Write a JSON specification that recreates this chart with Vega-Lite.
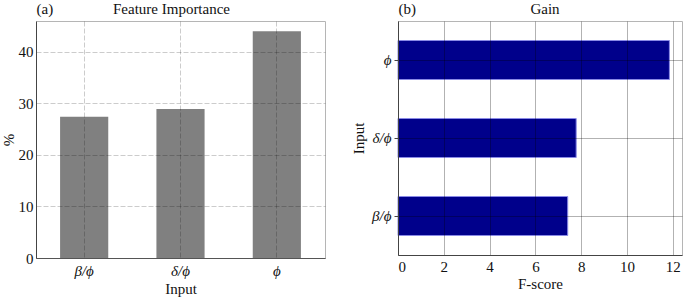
{
  "$schema": "https://vega.github.io/schema/vega-lite/v6.json",
  "padding": {"left": 0, "top": 0, "right": 0, "bottom": 0},
  "background": "white",
  "config": {
    "font": "Liberation Serif",
    "view": {"stroke": "#b5b5b5"},
    "title": {"font": "Liberation Serif", "fontSize": 15, "fontWeight": "normal", "color": "#111"},
    "concat": {"spacing": 25}
  },
  "datasets": {
    "imp": [{"Input": "β/ϕ", "Pct": 27.4}, {"Input": "δ/ϕ", "Pct": 28.9}, {"Input": "ϕ", "Pct": 44.0}],
    "gain": [{"Input": "ϕ", "F": 11.85}, {"Input": "δ/ϕ", "F": 7.78}, {"Input": "β/ϕ", "F": 7.41}]
  },
  "hconcat": [
    {
      "width": 289, "height": 237,
      "data": {"name": "imp"},
      "title": {"text": "Feature Importance", "offset": -16, "dx": -9},
      "layer": [
        {
          "mark": {"type": "bar", "color": "#808080"},
          "encoding": {
            "x": {"field": "Input", "type": "nominal", "sort": null, "scale": {"paddingInner": 0.5, "paddingOuter": 0.25},
              "axis": {"orient": "bottom", "title": "Input", "labelAngle": 0, "ticks": false, "grid": true, "gridDash": [5, 2], "gridColor": "#000", "gridOpacity": 0.2, "zindex": 1, "labelFont": "Liberation Serif", "labelFontSize": 15, "labelColor": "#111", "titleFont": "Liberation Serif", "titleFontSize": 15, "titleFontWeight": "normal", "titleColor": "#111", "labelFontStyle": "italic", "labelPadding": 5, "titlePadding": 3, "domainColor": "#555"}},
            "y": {"field": "Pct", "type": "quantitative", "scale": {"domain": [0, 46], "nice": false},
              "axis": {"title": "%", "values": [0, 10, 20, 30, 40], "ticks": false, "grid": true, "gridDash": [5, 2], "gridColor": "#000", "gridOpacity": 0.2, "zindex": 1, "labelFont": "Liberation Serif", "labelFontSize": 15, "labelColor": "#111", "titleFont": "Liberation Serif", "titleFontSize": 15, "titleFontWeight": "normal", "titleColor": "#111", "labelPadding": 3, "titlePadding": 2, "domainColor": "#444"}}
          }
        },
        {
          "mark": {"type": "bar", "opacity": 0},
          "encoding": {
            "x": {"field": "Input", "type": "nominal", "sort": null,
              "axis": {"orient": "top", "title": "(a)", "titleAnchor": "start", "titleBaseline": "alphabetic", "titleFont": "Liberation Serif", "titleFontSize": 15, "titleFontWeight": "normal", "titleColor": "#111", "labels": false, "ticks": false, "domain": false, "grid": false, "titlePadding": 8}},
            "y": {"field": "Pct", "type": "quantitative"}
          }
        }
      ],
      "resolve": {"axis": {"x": "independent"}}
    },
    {
      "width": 284, "height": 234,
      "data": {"name": "gain"},
      "title": {"text": "Gain", "offset": -16, "dx": 5},
      "layer": [
        {
          "mark": {"type": "bar", "color": "#00008b", "stroke": "#8a8ae6", "strokeWidth": 1},
          "encoding": {
            "y": {"field": "Input", "type": "nominal", "sort": null, "scale": {"paddingInner": 0.5, "paddingOuter": 0.25},
              "axis": {"title": "Input", "grid": true, "gridColor": "#000", "gridOpacity": 0.3, "zindex": 1, "labelFont": "Liberation Serif", "labelFontSize": 15, "labelColor": "#111", "titleFont": "Liberation Serif", "titleFontSize": 15, "titleFontWeight": "normal", "titleColor": "#111", "labelFontStyle": "italic", "tickSize": 4, "tickColor": "#444", "labelPadding": 3, "titlePadding": 5, "domainColor": "#444"}},
            "x": {"field": "F", "type": "quantitative", "scale": {"domain": [0, 12.4], "nice": false},
              "axis": {"title": "F-score", "values": [0, 2, 4, 6, 8, 10, 12], "ticks": false, "grid": true, "gridColor": "#000", "gridOpacity": 0.3, "zindex": 1, "labelFont": "Liberation Serif", "labelFontSize": 15, "labelColor": "#111", "titleFont": "Liberation Serif", "titleFontSize": 15, "titleFontWeight": "normal", "titleColor": "#111", "labelPadding": 4, "titlePadding": 2, "domainColor": "#444"}}
          }
        },
        {
          "mark": {"type": "bar", "opacity": 0},
          "encoding": {
            "y": {"field": "Input", "type": "nominal", "sort": null},
            "x": {"field": "F", "type": "quantitative",
              "axis": {"orient": "top", "title": "(b)", "titleAnchor": "start", "titleBaseline": "alphabetic", "titleFont": "Liberation Serif", "titleFontSize": 15, "titleFontWeight": "normal", "titleColor": "#111", "labels": false, "ticks": false, "domain": false, "grid": false, "titlePadding": 8}}
          }
        }
      ],
      "resolve": {"axis": {"x": "independent"}}
    }
  ]
}
